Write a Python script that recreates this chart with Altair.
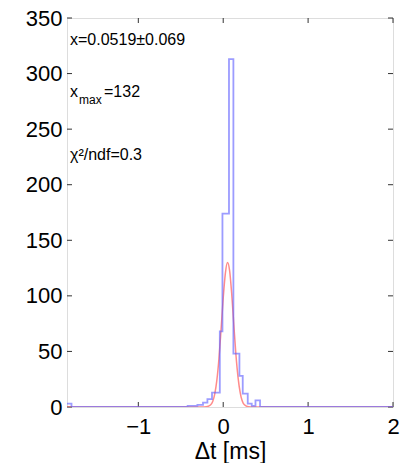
import altair as alt
import pandas as pd

# Histogram (outline), left bin edges in ms and counts
hist_edges = [-1.84, -1.787, -0.419, -0.304, -0.238, -0.186, -0.132, -0.040, -0.009,
              0.068, 0.120, 0.191, 0.230, 0.289, 0.336, 0.380, 0.434, 2.0]
hist_counts = [3, 0, 1, 2, 4, 7, 13, 68, 174, 313, 48, 28, 12, 3, 1, 6, 0, 0]

# Fitted curve
fit_x = [-1.84, -0.35, -0.30, -0.25, -0.20, -0.15, -0.10, -0.075, -0.05, -0.025, 0.0,
         0.025, 0.05, 0.075, 0.10, 0.125, 0.15, 0.175, 0.20, 0.25, 0.30, 0.35, 0.40, 2.0]
fit_y = [0, 0, 0, 0, 0.2, 1.8, 11.6, 24, 43.6, 70, 98, 120, 130, 123, 102, 74, 47,
         26.5, 13, 2, 0.2, 0, 0, 0]

x_ticks = [-1, 0, 1, 2]
y_ticks = [0, 50, 100, 150, 200, 250, 300, 350]

FONT = "Liberation Sans"
W, H = 326, 389

xscale = alt.Scale(domain=[-1.84, 2], nice=False, zero=False)
yscale = alt.Scale(domain=[0, 350], nice=False)

hist_df = pd.DataFrame({"t": hist_edges, "n": hist_counts})
fit_df = pd.DataFrame({"t": fit_x, "n": fit_y})
xt_df = pd.DataFrame({"t": x_ticks})
yt_df = pd.DataFrame({"n": y_ticks})

xaxis = alt.Axis(values=x_ticks, format="d", title="Δt [ms]", domain=False, ticks=False,
                 grid=False, labelFontSize=22, labelFont=FONT, labelColor="black",
                 labelPadding=9, labelOverlap=False, labelBound=False, labelFlush=False,
                 titleFontSize=23, titleFont=FONT, titleFontWeight="normal",
                 titleColor="black", titlePadding=3)
yaxis = alt.Axis(values=y_ticks, format="d", title=None, domain=False, ticks=False,
                 grid=False, labelFontSize=22, labelFont=FONT, labelColor="black",
                 labelPadding=5, labelOverlap=False, labelFlush=False)

hist = alt.Chart(hist_df).mark_line(interpolate="step-after", color="#5a5aff",
                                    strokeWidth=1.8, opacity=0.6, clip=True).encode(
    x=alt.X("t:Q", scale=xscale, axis=xaxis),
    y=alt.Y("n:Q", scale=yscale, axis=yaxis),
)

fit = alt.Chart(fit_df).mark_line(interpolate="monotone", color="#ff5a5a",
                                  strokeWidth=1.5, opacity=0.7, clip=True).encode(
    x=alt.X("t:Q", scale=xscale),
    y=alt.Y("n:Q", scale=yscale),
)

tick_style = dict(color="#333333", strokeWidth=1)
xt_bot = alt.Chart(xt_df).mark_rule(**tick_style).encode(
    x=alt.X("t:Q", scale=xscale), y=alt.value(H), y2=alt.value(H - 5))
xt_top = alt.Chart(xt_df).mark_rule(**tick_style).encode(
    x=alt.X("t:Q", scale=xscale), y=alt.value(0), y2=alt.value(5))
yt_left = alt.Chart(yt_df).mark_rule(**tick_style).encode(
    y=alt.Y("n:Q", scale=yscale), x=alt.value(0), x2=alt.value(5))
yt_right = alt.Chart(yt_df).mark_rule(**tick_style).encode(
    y=alt.Y("n:Q", scale=yscale), x=alt.value(W), x2=alt.value(W - 5))

ann_df = pd.DataFrame({"a": [0]})
def txt(s, x, y, size=16):
    return alt.Chart(ann_df).mark_text(text=s, align="left", baseline="middle",
                                       font=FONT, fontSize=size, color="black").encode(
        x=alt.value(x), y=alt.value(y))

ann = [
    txt("x=0.0519±0.069", 3, 22),
    txt("x", 3, 74),
    txt("max", 12, 82, 12),
    txt("=132", 37, 74),
    txt("χ²/ndf=0.3", 3, 137),
]

chart = alt.layer(xt_bot, xt_top, yt_left, yt_right, fit, hist, *ann).properties(
    width=W, height=H,
    autosize=alt.AutoSizeParams(type="none"),
    padding={"left": 67, "top": 18, "right": 14, "bottom": 56},
).configure_view(stroke="#222222", strokeWidth=1).configure(background="white")

chart.save("out.html", embed_options={"renderer": "svg", "actions": False})
